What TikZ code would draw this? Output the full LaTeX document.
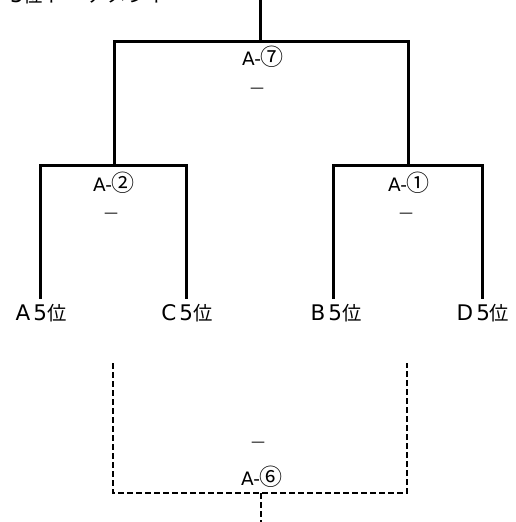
\documentclass[tikz,border=0pt]{standalone}
\usepackage{fontspec}
\setmainfont{DejaVu Sans}
\newfontfamily\latsp[LetterSpace=14]{DejaVu Sans}
\newfontfamily\jp[Scale=0.9,LetterSpace=8]{Noto Sans CJK JP}
\newfontfamily\jpbar{Noto Sans CJK JP}
\newcommand{\circd}[1]{{\jpbar\fontsize{23}{24}\selectfont #1}}
\begin{document}
\begin{tikzpicture}[x=1pt,y=-1pt,
  bracket/.style={line width=3pt,line join=miter,line cap=rect},
  dbracket/.style={line width=2.8pt,dash pattern=on 6pt off 3pt,line join=miter},
  lbl/.style={inner sep=0pt,font=\latsp\fontsize{21.5}{24}\selectfont},
  mlbl/.style={inner sep=0pt,font=\fontsize{18.5}{22}\selectfont},
  bar/.style={inner sep=0pt,font=\fontsize{14}{16}\selectfont}]
\useasboundingbox (0,0) rectangle (515,522);
% title (cut by top edge)
\node[lbl,anchor=base west] (title) at (10,2) {5{\jp 位トーナメント}};
% coordinates
\coordinate (top) at (260,0);
\coordinate (j7) at (260,41);
\coordinate (l7) at (114,41);
\coordinate (r7) at (408,41);
\coordinate (j2) at (114,165);
\coordinate (l2) at (40,165);
\coordinate (r2) at (186,165);
\coordinate (j1) at (408,165);
\coordinate (l1) at (333,165);
\coordinate (r1) at (482,165);
\coordinate (a5) at (40,297);
\coordinate (c5) at (186,297);
\coordinate (b5) at (333,297);
\coordinate (d5) at (482,297);
% solid bracket
\draw[bracket] (top) -- (j7);
\draw[bracket] (j2) -- (l7) -- (r7) -- (j1);
\draw[bracket] (a5) -- (l2) -- (r2) -- (c5);
\draw[bracket] (b5) -- (l1) -- (r1) -- (d5);
% labels
\node[mlbl] (m7) at (263,57) {A-\circd{⑦}};
\node[bar] (s7) at (257,90) {—};
\node[mlbl] (m2) at (114,183) {A-\circd{②}};
\node[bar] (s2) at (111,215) {—};
\node[mlbl] (m1) at (409,183) {A-\circd{①}};
\node[bar] (s1) at (406,215) {—};
\node[lbl] (ta) at (41,313) {A5{\jp 位}};
\node[lbl] (tc) at (187,313) {C5{\jp 位}};
\node[lbl] (tb) at (336,313) {B5{\jp 位}};
\node[lbl] (td) at (483,313) {D5{\jp 位}};
% dashed bracket
\coordinate (dl) at (113,363);
\coordinate (dr) at (407,363);
\coordinate (dbl) at (113,493);
\coordinate (dbr) at (407,493);
\coordinate (dj) at (261,493);
\coordinate (dbot) at (261,522);
\draw[dbracket] (dl) -- (dbl) -- (dbr) -- (dr);
\draw[dbracket] (dj) -- (dbot);
\node[bar] (s6) at (258,444) {—};
\node[mlbl] (m6) at (262,477) {A-\circd{⑥}};
\end{tikzpicture}
\end{document}
